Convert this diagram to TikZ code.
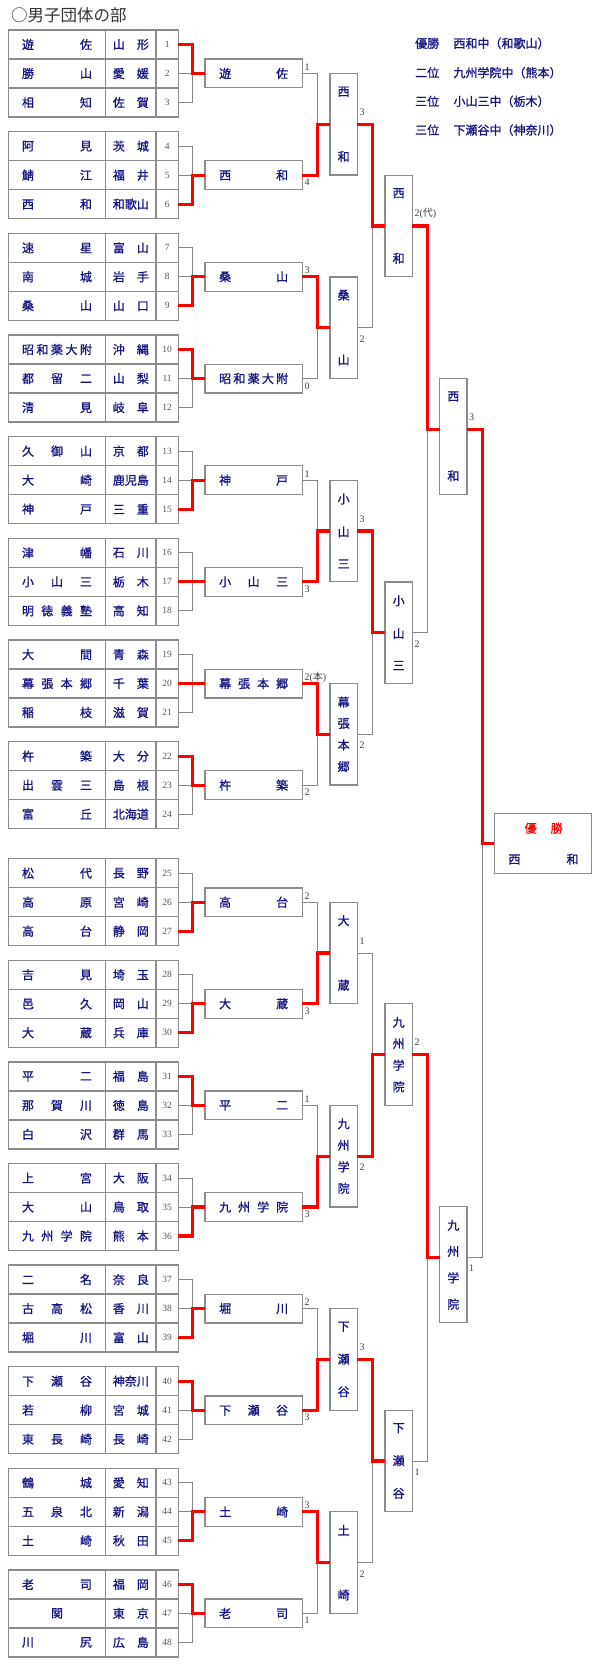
\documentclass[tikz,border=0pt]{standalone}
\usepackage{fontspec}
\setmainfont{Liberation Serif}
\newfontfamily\jp{Noto Sans CJK JP}
\newfontfamily\jpb[FakeBold=1]{Noto Sans CJK JP}
\usetikzlibrary{calc}
\definecolor{navy}{RGB}{20,20,130}
\definecolor{tgray}{RGB}{140,140,140}
\definecolor{lgray}{RGB}{135,135,135}
\definecolor{numgray}{RGB}{85,85,85}
\newcommand\jpf{\jpb\fontsize{12}{12}\selectfont}
\newcommand\hd[2]{\hbox to #1{#2}}
\newcommand\vc[1]{\hbox to 12pt{\hss#1\hss}}
\newcommand\vd[2]{\vbox to #1{\offinterlineskip#2}}
\tikzset{
 cell/.style={draw=tgray, line width=1.3pt, inner sep=0pt, outer sep=0pt, anchor=north west, minimum height=29pt, text=navy, font=\jpf},
 numcell/.style={cell, text=numgray, font=\fontsize{9.5}{9.5}\selectfont},
 rbox/.style={draw=tgray, line width=1.3pt, inner sep=0pt, outer sep=0pt, text=navy, font=\jpf, fill=white},
 conn/.style={draw=lgray, line width=0.9pt},
 win/.style={draw=red, line width=3.2pt},
 score/.style={inner sep=0pt, anchor=base west, font=\fontsize{10}{10}\selectfont, text=black!75},
 leg/.style={anchor=west, inner sep=0pt, text=navy, font=\jpf},
}
\newcommand\tent[3]{%
 \pgfmathsetmacro\tgrp{int((#1-1)/3)}%
 \pgfmathsetmacro\trw{int(mod(#1-1,3))}%
 \pgfmathsetmacro\tyy{(\tgrp<8 ? 30+\tgrp*101.67 : 858.7+(\tgrp-8)*101.6) + \trw*29}%
 \node[cell, minimum width=97.4pt] (m#1) at (8.3,\tyy) {\hd{70pt}{#2}};
 \node[cell, minimum width=50.3pt] (p#1) at (105.7,\tyy) {\hd{36pt}{#3}};
 \node[numcell, minimum width=22.3pt] (n#1) at (156,\tyy) {#1};
}
\newcommand\rone[2]{%
 \pgfmathsetmacro\tyy{(#1<9 ? 30+(#1-1)*101.67 : 858.7+(#1-9)*101.6)+43.5}%
 \node[rbox, minimum width=97.3pt, minimum height=28.7pt] (a#1) at (253.65,\tyy) {\hd{69pt}{#2}};
}
\begin{document}
\begin{tikzpicture}[x=1pt,y=-1pt]
\useasboundingbox (0,0) rectangle (600,1680);
\node[anchor=west, inner sep=0pt, font=\jp\fontsize{16.5}{16.5}\selectfont, text=black!80] (title) at (11,15.5) {○男子団体の部};
% legend
\node[leg] (l1a) at (415,43.3) {優勝}; \node[leg] (l1b) at (453.3,43.3) {西和中（和歌山）};
\node[leg] (l2a) at (415,72.7) {二位}; \node[leg] (l2b) at (453.3,72.7) {九州学院中（熊本）};
\node[leg] (l3a) at (415,101.3) {三位}; \node[leg] (l3b) at (453.3,101.3) {小山三中（栃木）};
\node[leg] (l4a) at (415,130) {三位}; \node[leg] (l4b) at (453.3,130) {下瀬谷中（神奈川）};
% entries
\tent{1}{遊\hfill 佐}{山\hfill 形}
\tent{2}{勝\hfill 山}{愛\hfill 媛}
\tent{3}{相\hfill 知}{佐\hfill 賀}
\tent{4}{阿\hfill 見}{茨\hfill 城}
\tent{5}{鯖\hfill 江}{福\hfill 井}
\tent{6}{西\hfill 和}{和\hfill 歌\hfill 山}
\tent{7}{速\hfill 星}{富\hfill 山}
\tent{8}{南\hfill 城}{岩\hfill 手}
\tent{9}{桑\hfill 山}{山\hfill 口}
\tent{10}{昭\hfill 和\hfill 薬\hfill 大\hfill 附}{沖\hfill 縄}
\tent{11}{都\hfill 留\hfill 二}{山\hfill 梨}
\tent{12}{清\hfill 見}{岐\hfill 阜}
\tent{13}{久\hfill 御\hfill 山}{京\hfill 都}
\tent{14}{大\hfill 崎}{鹿\hfill 児\hfill 島}
\tent{15}{神\hfill 戸}{三\hfill 重}
\tent{16}{津\hfill 幡}{石\hfill 川}
\tent{17}{小\hfill 山\hfill 三}{栃\hfill 木}
\tent{18}{明\hfill 徳\hfill 義\hfill 塾}{高\hfill 知}
\tent{19}{大\hfill 間}{青\hfill 森}
\tent{20}{幕\hfill 張\hfill 本\hfill 郷}{千\hfill 葉}
\tent{21}{稲\hfill 枝}{滋\hfill 賀}
\tent{22}{杵\hfill 築}{大\hfill 分}
\tent{23}{出\hfill 雲\hfill 三}{島\hfill 根}
\tent{24}{富\hfill 丘}{北\hfill 海\hfill 道}
\tent{25}{松\hfill 代}{長\hfill 野}
\tent{26}{高\hfill 原}{宮\hfill 崎}
\tent{27}{高\hfill 台}{静\hfill 岡}
\tent{28}{吉\hfill 見}{埼\hfill 玉}
\tent{29}{邑\hfill 久}{岡\hfill 山}
\tent{30}{大\hfill 蔵}{兵\hfill 庫}
\tent{31}{平\hfill 二}{福\hfill 島}
\tent{32}{那\hfill 賀\hfill 川}{徳\hfill 島}
\tent{33}{白\hfill 沢}{群\hfill 馬}
\tent{34}{上\hfill 宮}{大\hfill 阪}
\tent{35}{大\hfill 山}{鳥\hfill 取}
\tent{36}{九\hfill 州\hfill 学\hfill 院}{熊\hfill 本}
\tent{37}{二\hfill 名}{奈\hfill 良}
\tent{38}{古\hfill 高\hfill 松}{香\hfill 川}
\tent{39}{堀\hfill 川}{富\hfill 山}
\tent{40}{下\hfill 瀬\hfill 谷}{神\hfill 奈\hfill 川}
\tent{41}{若\hfill 柳}{宮\hfill 城}
\tent{42}{東\hfill 長\hfill 崎}{長\hfill 崎}
\tent{43}{鶴\hfill 城}{愛\hfill 知}
\tent{44}{五\hfill 泉\hfill 北}{新\hfill 潟}
\tent{45}{土\hfill 崎}{秋\hfill 田}
\tent{46}{老\hfill 司}{福\hfill 岡}
\tent{47}{\hfill 関\hfill}{東\hfill 京}
\tent{48}{川\hfill 尻}{広\hfill 島}
% round 1 boxes
\rone{1}{遊\hfill 佐}
\rone{2}{西\hfill 和}
\rone{3}{桑\hfill 山}
\rone{4}{昭\hfill 和\hfill 薬\hfill 大\hfill 附}
\rone{5}{神\hfill 戸}
\rone{6}{小\hfill 山\hfill 三}
\rone{7}{幕\hfill 張\hfill 本\hfill 郷}
\rone{8}{杵\hfill 築}
\rone{9}{高\hfill 台}
\rone{10}{大\hfill 蔵}
\rone{11}{平\hfill 二}
\rone{12}{九\hfill 州\hfill 学\hfill 院}
\rone{13}{堀\hfill 川}
\rone{14}{下\hfill 瀬\hfill 谷}
\rone{15}{土\hfill 崎}
\rone{16}{老\hfill 司}
% round 2 boxes
\tikzset{r2/.style={rbox, minimum width=27.3pt, minimum height=101.6pt}}
\node[r2] (b1) at (343.65,124.33) {\vd{74.6pt}{\vc{西}\vfill\vc{和}}};
\node[r2] (b2) at (343.65,327.67) {\vd{74.6pt}{\vc{桑}\vfill\vc{山}}};
\node[r2] (b3) at (343.65,531.0) {\vd{74.6pt}{\vc{小}\vfill\vc{山}\vfill\vc{三}}};
\node[r2] (b4) at (343.65,734.33) {\vd{74.6pt}{\vc{幕}\vfill\vc{張}\vfill\vc{本}\vfill\vc{郷}}};
\node[r2] (b5) at (343.65,953.0) {\vd{74.6pt}{\vc{大}\vfill\vc{蔵}}};
\node[r2] (b6) at (343.65,1156.2) {\vd{74.6pt}{\vc{九}\vfill\vc{州}\vfill\vc{学}\vfill\vc{院}}};
\node[r2] (b7) at (343.65,1359.4) {\vd{74.6pt}{\vc{下}\vfill\vc{瀬}\vfill\vc{谷}}};
\node[r2] (b8) at (343.65,1562.6) {\vd{74.6pt}{\vc{土}\vfill\vc{崎}}};
% round 3 boxes
\node[r2] (c1) at (398.65,226.0) {\vd{74.6pt}{\vc{西}\vfill\vc{和}}};
\node[r2] (c2) at (398.65,632.67) {\vd{74.6pt}{\vc{小}\vfill\vc{山}\vfill\vc{三}}};
\node[r2] (c3) at (398.65,1054.6) {\vd{74.6pt}{\vc{九}\vfill\vc{州}\vfill\vc{学}\vfill\vc{院}}};
\node[r2] (c4) at (398.65,1461.0) {\vd{74.6pt}{\vc{下}\vfill\vc{瀬}\vfill\vc{谷}}};
% round 4 boxes
\tikzset{r4/.style={rbox, minimum width=27.3pt, minimum height=116pt}}
\coordinate (dm1) at (453.35,429.33);
\coordinate (dm2) at (453.35,1257.8);
\node[r4] (d1) at (453.35,436.33) {\vd{89pt}{\vc{西}\vfill\vc{和}}};
\node[r4] (d2) at (453.35,1264.8) {\vd{89pt}{\vc{九}\vfill\vc{州}\vfill\vc{学}\vfill\vc{院}}};
% final
\node[rbox, minimum width=97.4pt, minimum height=60pt] (f) at (543,843.6) {};
\node[inner sep=0pt, text=red, font=\jpf] (fw) at ($(f.center)+(0.7,-15.4)$) {優\hspace{14pt}勝};
\node[inner sep=0pt, text=navy, font=\jpf] (fn) at ($(f.center)+(0.5,15.6)$) {\hd{70pt}{西\hfill 和}};
% gray connectors
\foreach \i in {1,...,48}{\pgfmathtruncatemacro\k{(\i-1)/3+1}\draw[conn] (n\i.east) -- ++(14.5,0) |- (a\k.west);}
\foreach \k in {1,...,16}{\pgfmathtruncatemacro\j{(\k-1)/2+1}\draw[conn] (a\k.east) -- ++(15.2,0) |- (b\j.west);}
\foreach \j in {1,...,8}{\pgfmathtruncatemacro\m{(\j-1)/2+1}\draw[conn] (b\j.east) -- ++(15,0) |- (c\m.west);}
\foreach \m in {1,...,4}{\pgfmathtruncatemacro\q{(\m-1)/2+1}\draw[conn] (c\m.east) -- ++(15,0) |- (d\q.west |- dm\q);}
\foreach \q in {1,2}{\draw[conn] (d\q.east |- dm\q) -- ++(15.3,0) |- (f.west);}
% winner paths
\foreach \i/\k in {1/1,6/2,9/3,10/4,15/5,17/6,20/7,22/8,27/9,30/10,31/11,36/12,39/13,40/14,45/15,46/16}{\draw[win] (n\i.east) -- ++(14.5,0) |- (a\k.west);}
\foreach \k/\j in {2/1,3/2,6/3,7/4,10/5,12/6,14/7,15/8}{\draw[win] (a\k.east) -- ++(15.2,0) |- (b\j.west);}
\foreach \j/\m in {1/1,3/2,6/3,7/4}{\draw[win] (b\j.east) -- ++(15,0) |- (c\m.west);}
\foreach \m/\q in {1/1,3/2}{\draw[win] (c\m.east) -- ++(15,0) |- (d\q.west |- dm\q);}
\draw[win] (d1.east |- dm1) -- ++(15.3,0) |- (f.west);
% scores
\foreach \k/\s in {1/1,3/3,5/1,7/{2({\jp 本})},9/2,11/1,13/2,15/3}{\node[score] (sa\k) at ($(a\k.east)+(2,-3)$) {\s};}
\foreach \k/\s in {2/4,4/0,6/3,8/2,10/3,12/3,14/3,16/1}{\node[score] (sa\k) at ($(a\k.east)+(2,10.5)$) {\s};}
\foreach \j/\s in {1/3,3/3,5/1,7/3}{\node[score] (sb\j) at ($(b\j.east)+(2,-9)$) {\s};}
\foreach \j/\s in {2/2,4/2,6/2,8/2}{\node[score] (sb\j) at ($(b\j.east)+(2,14.5)$) {\s};}
\node[score] (sc1) at ($(c1.east)+(2,-9)$) {2({\jp 代})};
\node[score] (sc3) at ($(c3.east)+(2,-9)$) {2};
\node[score] (sc2) at ($(c2.east)+(2,14.5)$) {2};
\node[score] (sc4) at ($(c4.east)+(2,14.5)$) {1};
\node[score] (sd1) at ($(d1.east |- dm1)+(2,-9)$) {3};
\node[score] (sd2) at ($(d2.east |- dm2)+(2,14)$) {1};
\end{tikzpicture}
\end{document}
